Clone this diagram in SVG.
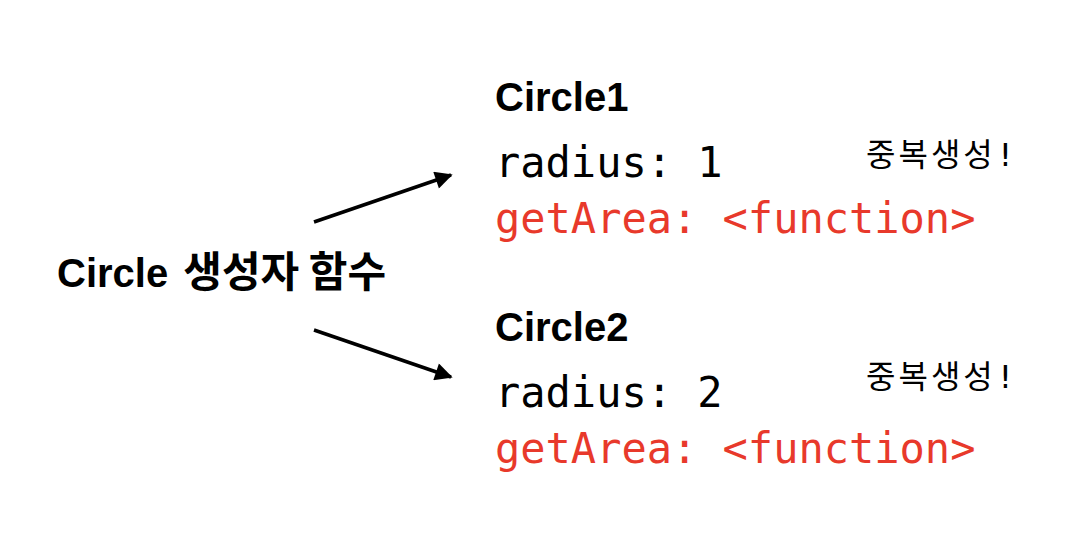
<svg xmlns="http://www.w3.org/2000/svg" width="1066" height="552" viewBox="0 0 1066 552">
<style>
.title{font-family:"Liberation Sans","Noto Sans CJK KR",sans-serif;font-weight:bold;font-size:40px;fill:#000}
.ko{font-family:"Noto Sans CJK KR",sans-serif;font-size:42px}
.mono{font-family:"DejaVu Sans Mono","Liberation Mono",monospace;font-size:42px;fill:#000}
.red{fill:#e8392b}
.note{font-family:"Noto Sans CJK KR",sans-serif;font-size:32px;letter-spacing:3px;fill:#000}
.bang{font-family:"DejaVu Sans Mono",monospace}
.conn{stroke:#000;stroke-width:3.5;fill:none;marker-end:url(#ah)}
</style>
<defs>
<marker id="ah" viewBox="0 0 10 10" refX="9" refY="5" markerWidth="6" markerHeight="5" markerUnits="strokeWidth" orient="auto">
<path d="M0,0 L10,5 L0,10 z" fill="#000"/>
</marker>
</defs>
<rect width="1066" height="552" fill="#fff"/>
<g id="constructor">
<text class="title" x="57" y="287">Circle <tspan class="ko" dx="4">생성자 함수</tspan></text>
</g>
<g id="circle1">
<text class="title" x="495" y="111">Circle1</text>
<text class="mono" x="495" y="177">radius: 1</text>
<text class="mono red" x="495" y="233">getArea: &lt;function&gt;</text>
<text class="note" x="866" y="166">중복생성<tspan class="bang">!</tspan></text>
</g>
<g id="circle2">
<text class="title" x="495" y="341">Circle2</text>
<text class="mono" x="495" y="407">radius: 2</text>
<text class="mono red" x="495" y="463">getArea: &lt;function&gt;</text>
<text class="note" x="866" y="388">중복생성<tspan class="bang">!</tspan></text>
</g>
<g id="connectors">
<line class="conn" x1="314" y1="222" x2="451" y2="175"/>
<line class="conn" x1="314" y1="330" x2="451" y2="377"/>
</g>
</svg>
